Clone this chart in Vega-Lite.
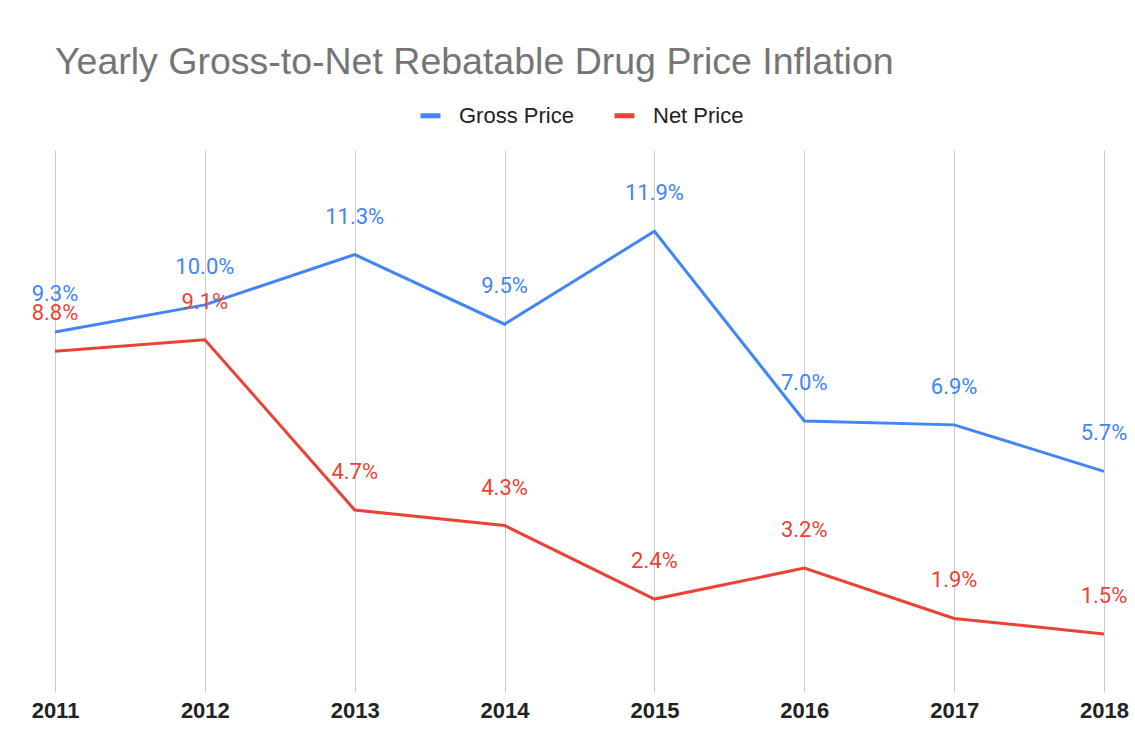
{
  "$schema": "https://vega.github.io/schema/vega-lite/v6.json",
  "width": 1049,
  "height": 542,
  "autosize": {"type": "none"},
  "padding": {"left": 55, "top": 150, "right": 31, "bottom": 50},
  "background": "white",
  "view": {"stroke": null},
  "title": {
    "text": "Yearly Gross-to-Net Rebatable Drug Price Inflation",
    "anchor": "start",
    "frame": "group",
    "font": "Liberation Sans",
    "fontSize": 37.5,
    "fontWeight": "normal",
    "color": "#757575",
    "offset": 22
  },
  "data": {
    "values": [
      {"year": "2011", "series": "Gross Price", "value": 0.093},
      {"year": "2012", "series": "Gross Price", "value": 0.100},
      {"year": "2013", "series": "Gross Price", "value": 0.113},
      {"year": "2014", "series": "Gross Price", "value": 0.095},
      {"year": "2015", "series": "Gross Price", "value": 0.119},
      {"year": "2016", "series": "Gross Price", "value": 0.070},
      {"year": "2017", "series": "Gross Price", "value": 0.069},
      {"year": "2018", "series": "Gross Price", "value": 0.057},
      {"year": "2011", "series": "Net Price", "value": 0.088},
      {"year": "2012", "series": "Net Price", "value": 0.091},
      {"year": "2013", "series": "Net Price", "value": 0.047},
      {"year": "2014", "series": "Net Price", "value": 0.043},
      {"year": "2015", "series": "Net Price", "value": 0.024},
      {"year": "2016", "series": "Net Price", "value": 0.032},
      {"year": "2017", "series": "Net Price", "value": 0.019},
      {"year": "2018", "series": "Net Price", "value": 0.015}
    ]
  },
  "encoding": {
    "x": {
      "field": "year",
      "type": "ordinal",
      "scale": {"type": "point", "padding": 0},
      "axis": {
        "title": null,
        "labelAngle": 0,
        "grid": true,
        "gridColor": "#cccccc",
        "gridWidth": 1,
        "domain": false,
        "ticks": false,
        "labelFont": "Liberation Sans",
        "labelFontSize": 22,
        "labelFontWeight": "bold",
        "labelColor": "#222222",
        "labelPadding": 8
      }
    },
    "y": {
      "field": "value",
      "type": "quantitative",
      "scale": {"domain": [0, 0.14]},
      "axis": null
    },
    "color": {
      "field": "series",
      "type": "nominal",
      "scale": {"domain": ["Gross Price", "Net Price"], "range": ["#4285F4", "#EA4335"]},
      "legend": {
        "title": null,
        "orient": "none",
        "legendX": 363,
        "legendY": -47,
        "direction": "horizontal",
        "symbolType": "stroke",
        "symbolStrokeWidth": 5,
        "symbolSize": 400,
        "labelFont": "Liberation Sans",
        "labelFontSize": 22,
        "labelColor": "#222222",
        "labelOffset": 16,
        "columnPadding": 30
      }
    }
  },
  "layer": [
    {"mark": {"type": "line", "strokeWidth": 3}},
    {
      "mark": {"type": "text", "dy": -38, "baseline": "middle", "font": "Roboto", "fontSize": 22},
      "encoding": {"text": {"field": "value", "type": "quantitative", "format": ".1%"}}
    }
  ]
}
